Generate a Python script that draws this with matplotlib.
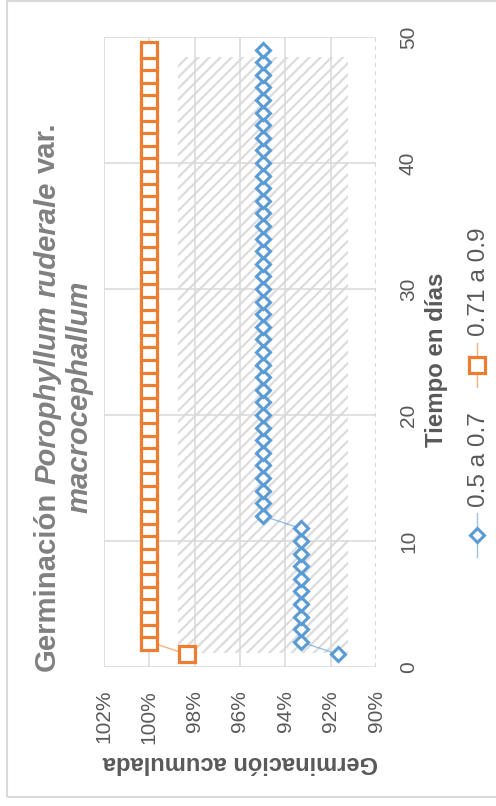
import matplotlib
matplotlib.use("Agg")
import matplotlib.pyplot as plt
from matplotlib.patches import Rectangle
from matplotlib.lines import Line2D

plt.rcParams["font.family"] = ["Liberation Sans", "DejaVu Sans"]
plt.rcParams["hatch.linewidth"] = 1.6

# Days after sowing
days = [1, 2, 3, 4, 5, 6, 7, 8, 9, 10,
        11, 12, 13, 14, 15, 16, 17, 18, 19, 20,
        21, 22, 23, 24, 25, 26, 27, 28, 29, 30,
        31, 32, 33, 34, 35, 36, 37, 38, 39, 40,
        41, 42, 43, 44, 45, 46, 47, 48, 49]

# Cumulative germination (%) for each treatment
germ_05_07 = [91.67,
              93.33, 93.33, 93.33, 93.33, 93.33, 93.33, 93.33, 93.33, 93.33, 93.33,
              95.0, 95.0, 95.0, 95.0, 95.0, 95.0, 95.0, 95.0, 95.0, 95.0,
              95.0, 95.0, 95.0, 95.0, 95.0, 95.0, 95.0, 95.0, 95.0, 95.0,
              95.0, 95.0, 95.0, 95.0, 95.0, 95.0, 95.0, 95.0, 95.0, 95.0,
              95.0, 95.0, 95.0, 95.0, 95.0, 95.0, 95.0, 95.0]
germ_071_09 = [98.33,
               100.0, 100.0, 100.0, 100.0, 100.0, 100.0, 100.0, 100.0, 100.0, 100.0,
               100.0, 100.0, 100.0, 100.0, 100.0, 100.0, 100.0, 100.0, 100.0, 100.0,
               100.0, 100.0, 100.0, 100.0, 100.0, 100.0, 100.0, 100.0, 100.0, 100.0,
               100.0, 100.0, 100.0, 100.0, 100.0, 100.0, 100.0, 100.0, 100.0, 100.0,
               100.0, 100.0, 100.0, 100.0, 100.0, 100.0, 100.0, 100.0]

series_labels = ["0.5 a 0.7", "0.71 a 0.9"]
pct_ticks = [90, 92, 94, 96, 98, 100, 102]
day_ticks = [0, 10, 20, 30, 40, 50]

BLUE = "#5b9bd5"
ORANGE = "#ed7d31"
GRID = "#d9d9d9"
TEXT = "#595959"
TITLE = "#808080"

D_MS, D_MEW = 7.6, 2.2
S_MS, S_MEW = 11.0, 2.3

W, H = 496, 806
fig = plt.figure(figsize=(W / 100, H / 100), dpi=100)


def fx(px):
    return px / W


def fy(py):
    return 1 - py / H


# Outer chart frame
frame = Rectangle((fx(7), fy(797)), fx(520) - fx(7), fy(1) - fy(797),
                  transform=fig.transFigure, facecolor="none",
                  edgecolor=GRID, lw=1.5)
fig.add_artist(frame)

# Plot area (chart laid out on its side: time runs upward, percent leftward)
ax = fig.add_axes([fx(104), fy(667), fx(376) - fx(104), fy(37) - fy(667)])
ax.set_xlim(102, 90)
ax.set_ylim(0, 50)
for s in ax.spines.values():
    s.set_visible(False)

# Hatched background band
band = Rectangle((0.272, 0.022), 0.625, 0.946, transform=ax.transAxes,
                 facecolor="none", edgecolor="#dcdcdc", lw=0, hatch="///",
                 zorder=0.5)
ax.add_patch(band)

# Gridlines
for v in pct_ticks:
    if v == 90:
        ax.axvline(v, color="#cfcfcf", lw=1.2, ls=(0, (2.5, 2.5)), zorder=1)
    else:
        ax.axvline(v, color=GRID, lw=1.1, zorder=1)
for d in day_ticks:
    ax.axhline(d, color=GRID, lw=1.1, zorder=1)

blue_line = (0.357, 0.608, 0.835, 0.6)
orange_line = (0.929, 0.49, 0.192, 0.6)
ax.plot(germ_05_07, days, color=blue_line, lw=1.0, zorder=2, clip_on=False)
ax.plot(germ_05_07, days, ls="none", marker="D", ms=D_MS, mfc="white",
        mec=BLUE, mew=D_MEW, zorder=3, clip_on=False)
ax.plot(germ_071_09, days, color=orange_line, lw=1.0, zorder=2, clip_on=False)
ax.plot(germ_071_09, days, ls="none", marker="s", ms=S_MS, mfc="white",
        mec=ORANGE, mew=S_MEW, zorder=3, clip_on=False)

# Ticks
ax.set_xticks(pct_ticks)
ax.set_xticklabels([f"{v}%" for v in pct_ticks])
ax.tick_params(axis="x", length=0, pad=16.5, labelsize=15, labelcolor=TEXT,
               labelrotation=90)
ax.yaxis.tick_right()
ax.set_yticks(day_ticks)
ax.set_yticklabels([str(d) for d in day_ticks])
ax.tick_params(axis="y", length=0, pad=16.5, labelsize=15, labelcolor=TEXT,
               labelrotation=90)
for lbl in ax.get_yticklabels():
    lbl.set_va("center")

# Axis titles
fig.text(fx(436), fy(360), "Tiempo en días", rotation=90, ha="center",
         va="center", fontsize=17.3, fontweight="bold", color=TEXT)
fig.text(fx(240), fy(762), "Germinación acumulada", rotation=180,
         ha="center", va="center", fontsize=17, fontweight="bold", color=TEXT)

# Title: rotated text runs with mixed upright / italic pieces
renderer = fig.canvas.get_renderer()


def text_len(s, size, style):
    t = fig.text(0, 0, s, fontsize=size, fontweight="bold", fontstyle=style)
    w = t.get_window_extent(renderer).width
    t.remove()
    return w


def vertical_run(pieces, x_base, y_center, size, color):
    gap = text_len("n n", size, "normal") - text_len("nn", size, "normal")
    texts = []
    for s, style in pieces:
        t = fig.text(0, 0, s, rotation=90, rotation_mode="anchor", ha="left",
                     va="baseline", fontsize=size, fontweight="bold",
                     fontstyle=style, color=color)
        texts.append((t, text_len(s, size, style)))
    total = sum(L for _, L in texts) + gap * (len(texts) - 1)
    y = y_center + total / 2
    for t, L in texts:
        t.set_position((fx(x_base), fy(y)))
        y -= L + gap


TSIZE = 21.1
vertical_run([("Germinación", "normal"), ("Porophyllum", "italic"),
              ("ruderale", "italic"), ("var.", "normal")],
             55, 397, TSIZE, TITLE)
vertical_run([("macrocephallum", "italic")], 87, 397, TSIZE, TITLE)

# Legend
legend_items = [
    (series_labels[0], BLUE, blue_line, "D", D_MS, D_MEW, 535, 507),
    (series_labels[1], ORANGE, orange_line, "s", S_MS, S_MEW, 365, 336),
]
for label, mc, lc, mk, ms, mew, yc, ytext in legend_items:
    fig.add_artist(Line2D([fx(477), fx(477)], [fy(yc + 22), fy(yc - 22)],
                          color=lc, lw=1.0, transform=fig.transFigure))
    fig.add_artist(Line2D([fx(477)], [fy(yc)], marker=mk, ms=ms, mfc="white",
                          mec=mc, mew=mew, ls="none",
                          transform=fig.transFigure))
    fig.text(fx(479), fy(ytext), label, rotation=90, ha="center", va="bottom",
             fontsize=17.6, color=TEXT)

fig.savefig("out.png", dpi=100)
